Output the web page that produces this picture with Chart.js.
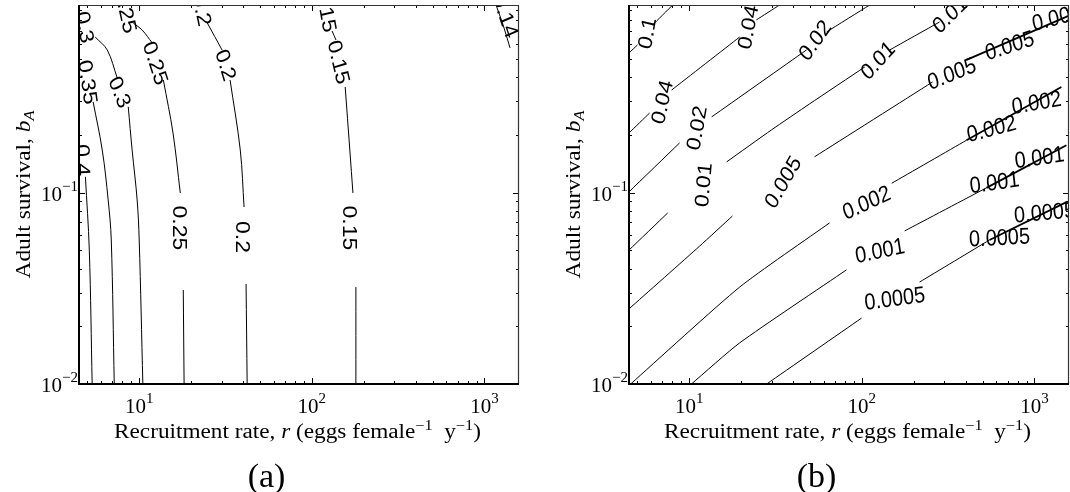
<!DOCTYPE html>
<html>
<head>
<meta charset="utf-8">
<script src="https://cdn.jsdelivr.net/npm/chart.js@4.4.1/dist/chart.umd.min.js"></script>
<style>
  html, body { margin: 0; padding: 0; background: #fff; }
  #wrap { position: relative; width: 1070px; height: 492px; }
  canvas { position: absolute; top: 0; }
  #panelA { left: 0; }
  #panelB { left: 535px; }
</style>
</head>
<body>
<div id="wrap">
  <canvas id="panelA" width="535" height="492"></canvas>
  <canvas id="panelB" width="535" height="492"></canvas>
</div>
<script>
// Axis limits: recruitment rate r and adult survival b_A (both log)
const rRange = [4.48, 1585];
const bRange = [0.01, 0.957];
const rTicks = [10, 100, 1000];
const rTickExp = ['1', '2', '3'];
const bTicks = [0.01, 0.1];
const bTickExp = ['\u22122', '\u22121'];

// (a) contour lines as [r, b] points, split where the inline labels sit
const a040 = [[[4.88, 0.121], [5.14, 0.0501], [5.34, 0.01]]];
const a035 = [[[5.41, 0.298], [6.11, 0.167], [6.61, 0.0916], [6.89, 0.0566], [7.17, 0.01]]];
const a030 = [[[5.56, 0.651], [6.53, 0.557], [7.46, 0.398]],
              [[8.64, 0.281], [9.10, 0.167], [9.73, 0.0916], [10.0, 0.0566], [10.5, 0.01]]];
const a025 = [[[9.23, 0.771], [10.4, 0.708], [11.9, 0.606]],
              [[13.8, 0.388], [15.7, 0.205], [17.3, 0.0996]],
              [[18.0, 0.0310], [18.2, 0.01]]];
const a020 = [[[24.8, 0.771], [30.2, 0.557]],
              [[33.6, 0.388], [38.5, 0.167], [40.5, 0.0841]],
              [[41.6, 0.0333], [42.2, 0.01]]];
const a015 = [[[131, 0.700], [138, 0.628]],
              [[156, 0.357], [166, 0.167], [173, 0.0996]],
              [[180, 0.0321], [180, 0.01]]];
const a014 = [[[1167, 0.957], [1282, 0.753], [1406, 0.571]]];

// (a) inline labels [r, b, text] and their angles in degrees
const labelsA = [
  [4.74, 0.148, '0.4'], [5.07, 0.379, '0.35'], [4.88, 0.734, '0.3'], [7.77, 0.336, '0.3'],
  [8.41, 0.891, '0.25'], [12.5, 0.477, '0.25'], [17.3, 0.0654, '0.25'],
  [23.2, 0.902, '0.2'], [31.9, 0.466, '0.2'], [40.0, 0.0587, '0.2'],
  [122, 0.902, '0.15'], [144, 0.482, '0.15'], [166, 0.0654, '0.15'],
  [1334, 0.840, '0.14']
];
const anglesA = [88, 82, 80, 68, 78, 72, 90, 78, 73, 90, 80, 77, 90, 72];

// (b) contour lines
const b100 = [[[4.48, 0.537], [5.02, 0.592]], [[6.14, 0.753], [8.02, 0.957]]];
const b040 = [[[4.48, 0.205], [5.90, 0.261]], [[7.91, 0.344], [19.6, 0.651]], [[24.5, 0.80], [33.4, 0.957]]];
const b020 = [[[4.48, 0.101], [8.80, 0.182]], [[13.5, 0.249], [47.8, 0.557]], [[62.5, 0.692], [111, 0.957]]];
const b010 = [[[4.48, 0.0501], [7.50, 0.0783]],
              [[16.5, 0.145], [30.0, 0.213], [49.8, 0.291], [104, 0.454]],
              [[145, 0.557], [282, 0.780]]];
const b005 = [[[4.48, 0.0247], [11.5, 0.0526], [17.8, 0.0755]], [[53.2, 0.154], [257, 0.379]]];
const b002 = [[[4.58, 0.01], [19.6, 0.0321], [65.0, 0.0695]], [[149, 0.112], [404, 0.188]]];
const b001 = [[[10.3, 0.01], [19.6, 0.0164], [81.5, 0.0395]], [[177, 0.0631], [527, 0.106]]];
const b0005 = [[[28.1, 0.01], [99.6, 0.0221]], [[216, 0.0341], [549, 0.0566]]];
// heavier tails of the lower contours near the right edge
const bTails = [
  [[404, 0.494], [1575, 0.840]],
  [[404, 0.188], [1432, 0.357]],
  [[527, 0.106], [1531, 0.177]],
  [[549, 0.0566], [1531, 0.0893]]
];

const labelsB = [
  [5.67, 0.683, '0.1'], [6.92, 0.298, '0.04'], [21.8, 0.734, '0.04'],
  [11.0, 0.218, '0.02'], [53.2, 0.628, '0.02'],
  [12.0, 0.110, '0.01'], [123, 0.494, '0.01'], [322, 0.859, '0.01'],
  [34.7, 0.114, '0.005'], [331, 0.422, '0.005'], [716, 0.592, '0.005'], [1340, 0.829, '0.005'],
  [106, 0.0893, '0.002'], [563, 0.218, '0.002'], [1026, 0.298, '0.002'],
  [127, 0.0501, '0.001'], [586, 0.114, '0.001'], [1069, 0.154, '0.001'],
  [155, 0.0282, '0.0005'], [627, 0.0587, '0.0005'], [1143, 0.0793, '0.0005']
];
const anglesB = [-80, -78, -80, -80, -55, -85, -48, -45, -60, -22, -18, -15,
                 -25, -15, -10, -12, -8, -8, -8, -3, -5];

const SERIF = '"Liberation Serif", "Times New Roman", serif';
const SANS = '"Liberation Sans", Arial, sans-serif';
const SY = 1.15; // label glyphs come out a little taller than wide

function toDatasets(groups, width, tension) {
  const out = [];
  groups.forEach(segs => segs.forEach(seg => {
    out.push({
      data: seg.map(p => ({ x: p[0], y: p[1] })),
      showLine: true,
      borderColor: '#000',
      borderWidth: width,
      pointRadius: 0,
      tension: tension,
      fill: false
    });
  }));
  return out;
}

function logTicks(min, max) {
  const out = [];
  for (let d = Math.floor(Math.log10(min)); d <= Math.ceil(Math.log10(max)); d++) {
    for (let m = 1; m <= 9; m++) {
      const v = m * Math.pow(10, d);
      if (v >= min && v <= max) out.push({ v: v, major: m === 1 });
    }
  }
  return out;
}

// text with italic / superscript / subscript pieces, squeezed to a given width
function drawRich(ctx, parts, size, target) {
  const fontOf = s => (s === 'i' || s === 'subi' ? 'italic ' : '') +
    ((s === 'sup' || s === 'subi') ? Math.round(size * 0.7) : size) + 'px ' + SERIF;
  let w = 0;
  parts.forEach(p => { ctx.font = fontOf(p[1]); w += ctx.measureText(p[0]).width; });
  ctx.scale(target / w, 1);
  let x = -w / 2;
  ctx.textAlign = 'left';
  ctx.textBaseline = 'alphabetic';
  parts.forEach(p => {
    ctx.font = fontOf(p[1]);
    const dy = p[1] === 'sup' ? -size * 0.42 : (p[1] === 'subi' ? size * 0.22 : 0);
    ctx.fillText(p[0], x, dy);
    x += ctx.measureText(p[0]).width;
  });
}

function drawContourLabels(chart, labels, angles) {
  const ctx = chart.ctx, a = chart.chartArea;
  const xs = chart.scales.x, ys = chart.scales.y;
  ctx.save();
  ctx.beginPath();
  ctx.rect(a.left, a.top, a.right - a.left, a.bottom - a.top);
  ctx.clip();
  ctx.font = '20px ' + SANS;
  ctx.fillStyle = '#000';
  ctx.textAlign = 'center';
  ctx.textBaseline = 'alphabetic';
  labels.forEach((l, i) => {
    const v = angles[i] * Math.PI / 180;
    ctx.save();
    ctx.translate(xs.getPixelForValue(l[0]), ys.getPixelForValue(l[1]));
    ctx.scale(1, SY);
    ctx.rotate(Math.atan2(Math.sin(v) / SY, Math.cos(v)));
    ctx.fillText(l[2], 0, 7);
    ctx.restore();
  });
  ctx.restore();
}

function drawFrame(chart, panelName) {
  const ctx = chart.ctx, a = chart.chartArea;
  const xs = chart.scales.x, ys = chart.scales.y;
  ctx.save();
  ctx.strokeStyle = '#000';
  ctx.fillStyle = '#000';

  // inward ticks on all four sides
  ctx.lineWidth = 1;
  ctx.beginPath();
  logTicks(rRange[0], rRange[1]).forEach(t => {
    const x = Math.round(xs.getPixelForValue(t.v)) + 0.5;
    const len = t.major ? 6 : 3;
    ctx.moveTo(x, a.bottom); ctx.lineTo(x, a.bottom - len);
    ctx.moveTo(x, a.top); ctx.lineTo(x, a.top + len);
  });
  logTicks(bRange[0], bRange[1]).forEach(t => {
    const y = Math.round(ys.getPixelForValue(t.v)) + 0.5;
    const len = t.major ? 6 : 3;
    ctx.moveTo(a.left, y); ctx.lineTo(a.left + len, y);
    ctx.moveTo(a.right, y); ctx.lineTo(a.right - len, y);
  });
  ctx.stroke();

  // box: heavier left and bottom
  ctx.strokeStyle = '#333';
  ctx.lineWidth = 1.2;
  ctx.beginPath();
  ctx.moveTo(a.left, a.top + 0.5); ctx.lineTo(a.right - 0.5, a.top + 0.5); ctx.lineTo(a.right - 0.5, a.bottom);
  ctx.stroke();
  ctx.strokeStyle = '#000';
  ctx.lineWidth = 2;
  ctx.beginPath();
  ctx.moveTo(a.left, a.top); ctx.lineTo(a.left, a.bottom); ctx.lineTo(a.right, a.bottom);
  ctx.stroke();

  // decade tick labels 10^n
  const big = '21px ' + SERIF, small = '15px ' + SERIF;
  ctx.textBaseline = 'alphabetic';
  ctx.textAlign = 'left';
  rTicks.forEach((v, i) => {
    const x = xs.getPixelForValue(v);
    ctx.font = big;
    const w1 = ctx.measureText('10').width;
    ctx.font = small;
    const w2 = ctx.measureText(rTickExp[i]).width;
    const x0 = x - (w1 + w2) / 2;
    ctx.font = big;
    ctx.fillText('10', x0, a.bottom + 29);
    ctx.font = small;
    ctx.fillText(rTickExp[i], x0 + w1, a.bottom + 19);
  });
  bTicks.forEach((v, i) => {
    const y = ys.getPixelForValue(v);
    ctx.font = small;
    const w2 = ctx.measureText(bTickExp[i]).width;
    ctx.font = big;
    const w1 = ctx.measureText('10').width;
    const x0 = a.left - 1 - w2 - w1;
    ctx.fillText('10', x0, y + 8);
    ctx.font = small;
    ctx.fillText(bTickExp[i], x0 + w1, y - 2);
  });

  // axis titles
  ctx.save();
  ctx.translate((a.left + a.right) / 2 - 1.5, a.bottom + 54);
  drawRich(ctx, [['Recruitment rate, ', ''], ['r', 'i'], [' (eggs female', ''], ['\u22121', 'sup'],
                 ['  y', ''], ['\u22121', 'sup'], [')', '']], 20, 367);
  ctx.restore();
  ctx.save();
  ctx.translate(a.left - 49, (a.top + a.bottom) / 2);
  ctx.rotate(-Math.PI / 2);
  drawRich(ctx, [['Adult survival, ', ''], ['b', 'i'], ['A', 'subi']], 20, 168);
  ctx.restore();

  // panel letter
  ctx.font = '34px ' + SERIF;
  ctx.textAlign = 'center';
  ctx.fillText(panelName, a.left + 187.5, a.bottom + 103);
  ctx.restore();
}

function makePanel(id, datasets, labels, angles, panelName, pad) {
  return new Chart(document.getElementById(id), {
    type: 'scatter',
    data: { datasets: datasets },
    options: {
      responsive: false,
      animation: false,
      events: [],
      layout: { padding: pad },
      plugins: { legend: { display: false }, tooltip: { enabled: false } },
      scales: {
        x: { type: 'logarithmic', min: rRange[0], max: rRange[1], display: false },
        y: { type: 'logarithmic', min: bRange[0], max: bRange[1], display: false }
      }
    },
    plugins: [{
      id: 'contourDecor',
      afterDatasetsDraw: chart => drawContourLabels(chart, labels, angles),
      afterDraw: chart => drawFrame(chart, panelName)
    }]
  });
}

makePanel('panelA',
  toDatasets([a040, a035, a030, a025, a020, a015, a014], 1, 0.35),
  labelsA, anglesA, '(a)', { left: 79, right: 16, top: 5, bottom: 108 });

makePanel('panelB',
  toDatasets([b100, b040, b020, b010, b005, b002, b001, b0005], 1, 0.2)
    .concat(toDatasets([bTails], 1.8, 0)),
  labelsB, anglesB, '(b)', { left: 94, right: 1, top: 5, bottom: 108 });
</script>
</body>
</html>
